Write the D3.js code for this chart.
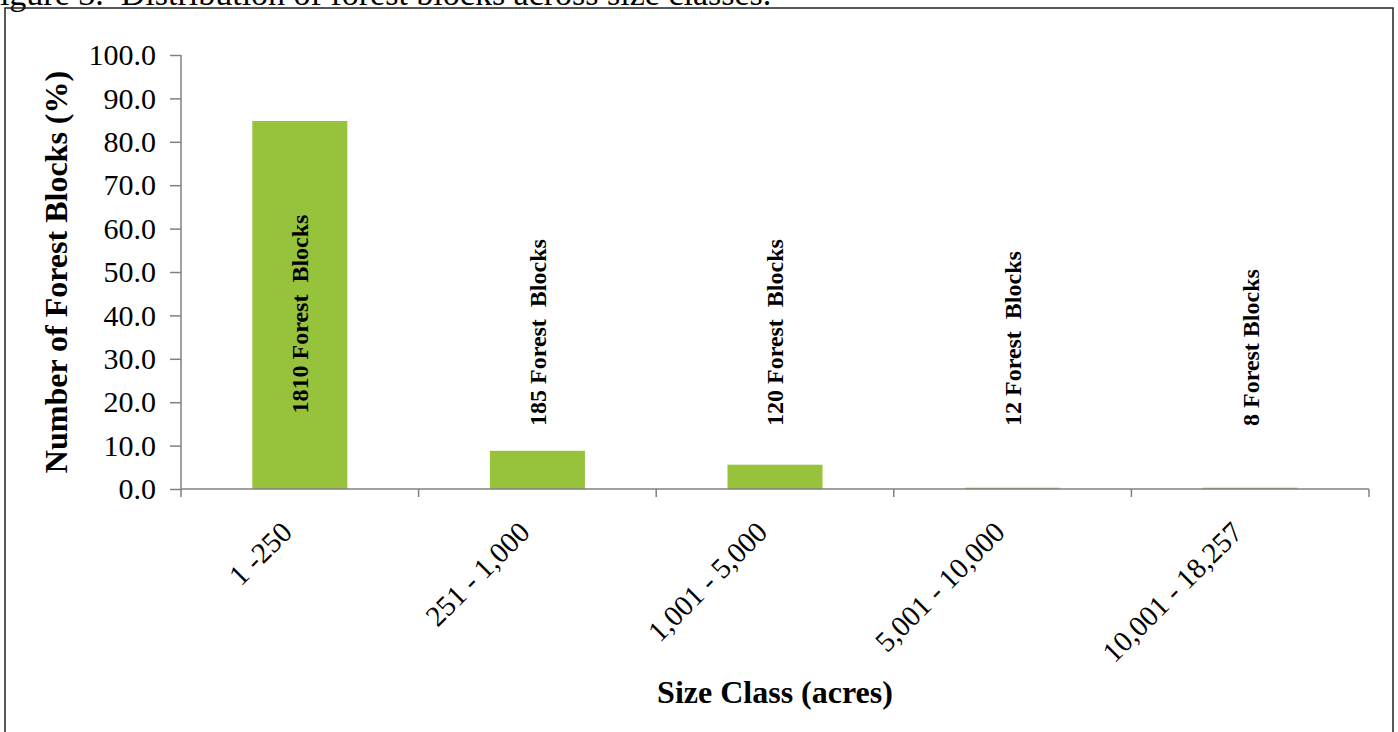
<!DOCTYPE html>
<html lang="en">
<head>
    <meta charset="UTF-8">
    <script src="https://d3js.org/d3.v7.min.js"></script>
    <style>
        body { margin: 0; background: #fff; }
        text { font-family: "Liberation Serif", "Times New Roman", serif; fill: #000; }
    </style>
</head>
<body>
    <svg id="chart" width="1398" height="732"></svg>
    <script>
        // data
        const sizeClasses = ["1 -250", "251 - 1,000", "1,001 - 5,000", "5,001 - 10,000", "10,001 - 18,257"];
        const percentBlocks = [84.8, 8.8, 5.6, 0.3, 0.3];
        const blockLabels = ["1810 Forest  Blocks", "185 Forest  Blocks", "120 Forest  Blocks", "12 Forest  Blocks", "8 Forest Blocks"];
        const yTicks = [0, 10, 20, 30, 40, 50, 60, 70, 80, 90, 100];

        const width = 1398, height = 732;
        const margin = { top: 55, right: 29, bottom: 243, left: 181 };
        const y0 = height - margin.bottom;

        const svg = d3.select("#chart")
            .attr("width", width)
            .attr("height", height);

        // caption, cut off at the top of the picture as in the source
        svg.append("text")
            .attr("x", -19)
            .attr("y", 5)
            .style("font-size", "34px")
            .style("white-space", "pre")
            .text("Figure 3.  Distribution of forest blocks across size classes.");

        // frame
        svg.append("rect")
            .attr("x", 5).attr("y", 8)
            .attr("width", 1388).attr("height", 760)
            .attr("fill", "none")
            .attr("stroke", "#222")
            .attr("stroke-width", 1.5);

        const x = d3.scaleBand()
            .domain(sizeClasses)
            .range([margin.left, width - margin.right])
            .padding(0);

        const y = d3.scaleLinear()
            .domain([0, 100])
            .range([y0, margin.top]);

        const barW = x.bandwidth() * 0.4;

        // Y axis
        const yAxis = svg.append("g")
            .attr("transform", `translate(${margin.left},0)`)
            .call(d3.axisLeft(y).tickValues(yTicks).tickFormat(d3.format(".1f")).tickSize(11).tickPadding(14));
        yAxis.selectAll("text").style("font-size", "30px");
        yAxis.selectAll("line, path").attr("stroke", "#808080").attr("stroke-width", 1.5);
        yAxis.select(".domain").attr("d", `M0,${y0}V${margin.top}`);

        // bars
        svg.selectAll(".bar")
            .data(sizeClasses)
            .enter().append("rect")
            .attr("class", "bar")
            .attr("x", d => x(d) + (x.bandwidth() - barW) / 2)
            .attr("y", (d, i) => y(percentBlocks[i]))
            .attr("width", barW)
            .attr("height", (d, i) => y0 - y(percentBlocks[i]))
            .attr("fill", "#97c33c");

        // X axis with ticks on category boundaries
        const xAxis = svg.append("g")
            .attr("transform", `translate(0,${y0})`);
        xAxis.append("line")
            .attr("x1", margin.left).attr("x2", width - margin.right)
            .attr("stroke", "#808080").attr("stroke-width", 1.5);
        const bounds = sizeClasses.map(d => x(d)).concat([x.range()[1]]);
        xAxis.selectAll(".btick")
            .data(bounds)
            .enter().append("line")
            .attr("class", "btick")
            .attr("x1", d => d).attr("x2", d => d)
            .attr("y1", 0).attr("y2", 8)
            .attr("stroke", "#808080").attr("stroke-width", 1.5);
        xAxis.selectAll(".xlab")
            .data(sizeClasses)
            .enter().append("text")
            .attr("class", "xlab")
            .attr("transform", d => `translate(${x(d) + x.bandwidth() / 2 - 6},${45}) rotate(-45)`)
            .attr("text-anchor", "end")
            .style("font-size", "29px")
            .text(d => d);

        // bar labels (vertical)
        svg.selectAll(".blab")
            .data(sizeClasses)
            .enter().append("text")
            .attr("class", "blab")
            .attr("transform", (d, i) => {
                const cx = x(d) + x.bandwidth() / 2;
                const inside = y0 - y(percentBlocks[i]) > 200;
                const cy = inside ? (y(percentBlocks[i]) + y0) / 2 + 9 : y0 - 63;
                return `translate(${cx},${cy}) rotate(-90)`;
            })
            .attr("text-anchor", (d, i) => (y0 - y(percentBlocks[i]) > 200 ? "middle" : "start"))
            .attr("dy", "0.35em")
            .style("font-size", "24px")
            .style("font-weight", "bold")
            .style("white-space", "pre")
            .text((d, i) => blockLabels[i]);

        // axis titles
        svg.append("text")
            .attr("transform", `translate(56,${(margin.top + y0) / 2}) rotate(-90)`)
            .attr("text-anchor", "middle")
            .attr("dy", "0.35em")
            .style("font-size", "32px")
            .style("font-weight", "bold")
            .text("Number of Forest Blocks (%)");

        svg.append("text")
            .attr("x", (margin.left + width - margin.right) / 2)
            .attr("y", 703)
            .attr("text-anchor", "middle")
            .style("font-size", "32px")
            .style("font-weight", "bold")
            .text("Size Class (acres)");
    </script>
</body>
</html>
